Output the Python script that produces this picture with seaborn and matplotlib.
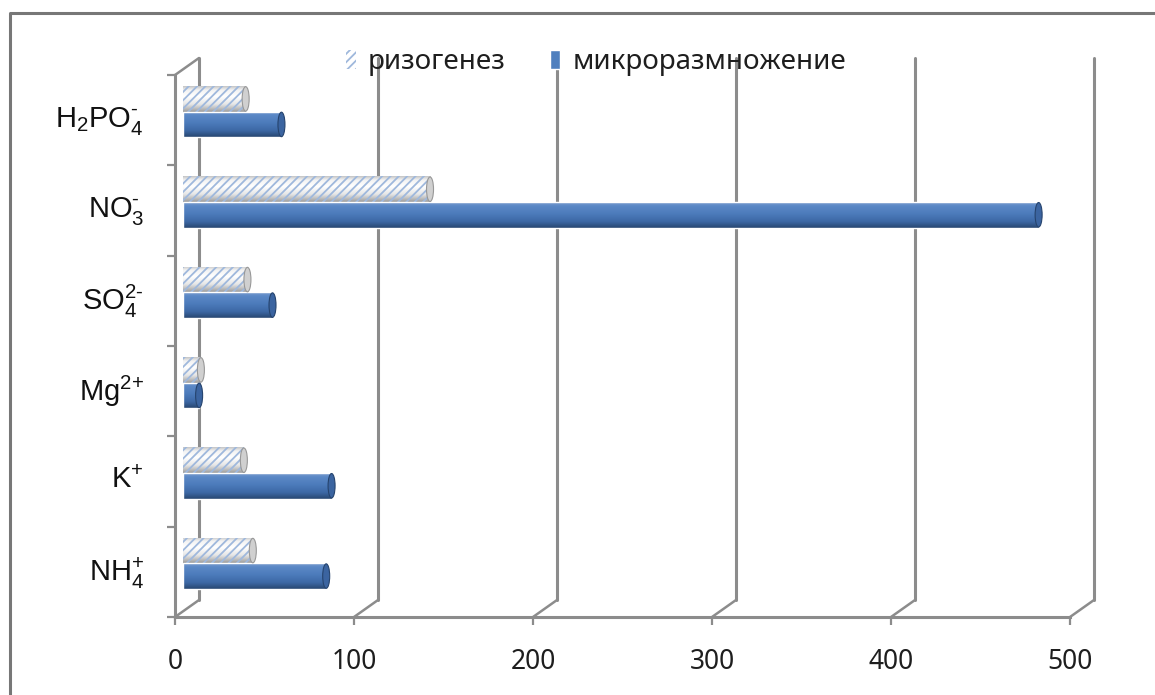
import numpy as np
import pandas as pd
import matplotlib
matplotlib.use("Agg")
import matplotlib.pyplot as plt
import seaborn as sns
from matplotlib.colors import LinearSegmentedColormap
from matplotlib.patches import Ellipse, ConnectionPatch
from matplotlib.lines import Line2D
from matplotlib.transforms import ScaledTranslation

# Ion uptake by two culture stages
ions = [r"H$_2$PO$_4^{\text{-}}$", r"NO$_3^{\text{-}}$", r"SO$_4^{\text{2-}}$",
        r"Mg$^{\text{2+}}$", r"K$^{\text{+}}$", r"NH$_4^{\text{+}}$"]
series = ["ризогенез", "микроразмножение"]
rhizogenesis = [35, 138, 36, 10, 34, 39]
micropropagation = [55, 478, 50, 9, 83, 80]
x_ticks = [0, 100, 200, 300, 400, 500]

df = pd.DataFrame({
    "ion": ions * 2,
    "series": [series[0]] * len(ions) + [series[1]] * len(ions),
    "value": rhizogenesis + micropropagation,
})

sns.set_theme(style="white")
plt.rcParams["font.family"] = ["Noto Sans", "DejaVu Sans"]
plt.rcParams["mathtext.fontset"] = "custom"
plt.rcParams["mathtext.rm"] = "Liberation Sans"
plt.rcParams["mathtext.it"] = "Liberation Sans:italic"
plt.rcParams["mathtext.bf"] = "Liberation Sans:bold"
plt.rcParams["hatch.linewidth"] = 1.3

W, H = 1155, 695
fig = plt.figure(figsize=(W / 100, H / 100), dpi=100)
fig.patch.set_facecolor("white")

PLANE_W, PLANE_H = 895, 542


def plane(x0, y_top):
    return [x0 / W, 1 - (y_top + PLANE_H) / H, PLANE_W / W, PLANE_H / H]


# back wall, bar plane and front edge of a pseudo-3D box
ax_back = fig.add_axes(plane(199, 58), zorder=0)
ax = fig.add_axes(plane(183, 66.5), zorder=1)
ax_front = fig.add_axes(plane(175, 75), zorder=2)

line_c = "#8c8c8c"
white_c = "#ffffff"
blue_c = "#4f7fbe"

sns.barplot(data=df, y="ion", x="value", hue="series", hue_order=series,
            order=ions, orient="h", width=0.565, palette=[white_c, blue_c],
            ax=ax, legend=False, saturation=1)

for a in (ax_back, ax, ax_front):
    a.set_xlim(0, 500)
    a.set_ylim(len(ions) - 0.5, -0.5)
    a.patch.set_visible(False)
    a.set_xlabel("")
    a.set_ylabel("")

for s in ax.spines.values():
    s.set_visible(False)
ax.set_xticks([])
ax.set_yticks([])

# legend is built from the bars while they still carry flat colours
white_bars, blue_bars = ax.containers
for bar in white_bars:
    bar.set_hatch("////")
    bar.set_edgecolor("#9fb8dc")
    bar.set_linewidth(0)
leg = ax.legend(ax.containers, series, loc="center",
                bbox_to_anchor=(596 / W, 1 - 62 / H), bbox_transform=fig.transFigure,
                ncol=2, frameon=False, fontsize=20, handlelength=0.36,
                handleheight=0.68, handletextpad=0.45, columnspacing=1.6)
for t in leg.get_texts():
    t.set_color("#1e1e1e")

# cylinder shading
cmap_white = LinearSegmentedColormap.from_list(
    "wcyl", [(0, "#c4c4c4"), (0.15, "#f2f2f2"), (0.4, "#ffffff"), (0.7, "#e6e6e6"), (1, "#9c9c9c")])
cmap_blue = LinearSegmentedColormap.from_list(
    "bcyl", [(0, "#7d9fcf"), (0.15, "#5b88c6"), (0.45, "#4c7bbb"), (0.75, "#3d68a5"), (1, "#27466f")])
grad = np.linspace(0, 1, 256).reshape(-1, 1)
cap_w = 7 * 500 / PLANE_W

for bars, cmap, cap_face, cap_edge in ((white_bars, cmap_white, "#d0d0d0", "#989898"),
                                       (blue_bars, cmap_blue, "#3b64a0", "#26446e")):
    for bar in bars:
        x, y = bar.get_x(), bar.get_y()
        w, h = bar.get_width(), bar.get_height()
        im = ax.imshow(grad, cmap=cmap, extent=[x, x + w, y + h, y], aspect="auto",
                       origin="upper", zorder=1.5, interpolation="bilinear")
        im.set_clip_path(bar)
        bar.set_facecolor("none")
        bar.set_zorder(1.6)
        ax.add_patch(Ellipse((x + w, y + h / 2), cap_w, h * 0.96, facecolor=cap_face,
                             edgecolor=cap_edge, lw=0.8, zorder=1.7))

ax.set_xlim(0, 500)
ax.set_ylim(len(ions) - 0.5, -0.5)

# back wall gridlines
for s in ax_back.spines.values():
    s.set_visible(False)
ax_back.set_xticks(x_ticks)
ax_back.set_yticks([])
ax_back.tick_params(axis="x", length=0, labelbottom=False)
ax_back.grid(True, axis="x", color=line_c, lw=2.2)
for gl in ax_back.get_xgridlines():
    gl.set_clip_on(False)

# front edges, ticks and labels
ax_front.spines["top"].set_visible(False)
ax_front.spines["right"].set_visible(False)
for s in ("left", "bottom"):
    ax_front.spines[s].set_color(line_c)
    ax_front.spines[s].set_linewidth(2.2)
ax_front.set_xticks(x_ticks, labels=[str(v) for v in x_ticks])
ax_front.set_yticks(range(len(ions)), labels=ions, fontfamily="Liberation Sans")
ax_front.set_yticks(np.arange(-0.5, len(ions)), minor=True)
ax_front.tick_params(axis="x", bottom=True, direction="out", length=5.8, width=1.6,
                     color=line_c, pad=16.6, labelsize=19, labelcolor="#1e1e1e")
ax_front.tick_params(axis="y", which="major", left=True, length=0, pad=22.3,
                     labelsize=21, labelcolor="#111111")
ax_front.tick_params(axis="y", which="minor", left=True, direction="out", length=5.8,
                     width=1.6, color=line_c)
lift = ScaledTranslation(0, 4 / 100, fig.dpi_scale_trans)
for lab in ax_front.get_yticklabels():
    lab.set_transform(lab.get_transform() + lift)

# floor and wall edges joining the front to the back
for v in x_ticks:
    fig.add_artist(ConnectionPatch(xyA=(v, len(ions) - 0.5), coordsA=ax_front.transData,
                                   xyB=(v, len(ions) - 0.5), coordsB=ax_back.transData,
                                   color=line_c, lw=1.8, shrinkA=0, shrinkB=0))
fig.add_artist(ConnectionPatch(xyA=(0, -0.5), coordsA=ax_front.transData,
                               xyB=(0, -0.5), coordsB=ax_back.transData,
                               color=line_c, lw=1.8, shrinkA=0, shrinkB=0))

# chart border
fig.add_artist(Line2D([10 / W, 10 / W, 1.0], [0, 1 - 13 / H, 1 - 13 / H],
                      transform=fig.transFigure, color="#777777", lw=2.2))

fig.savefig("out.png", dpi=100, facecolor="white")
